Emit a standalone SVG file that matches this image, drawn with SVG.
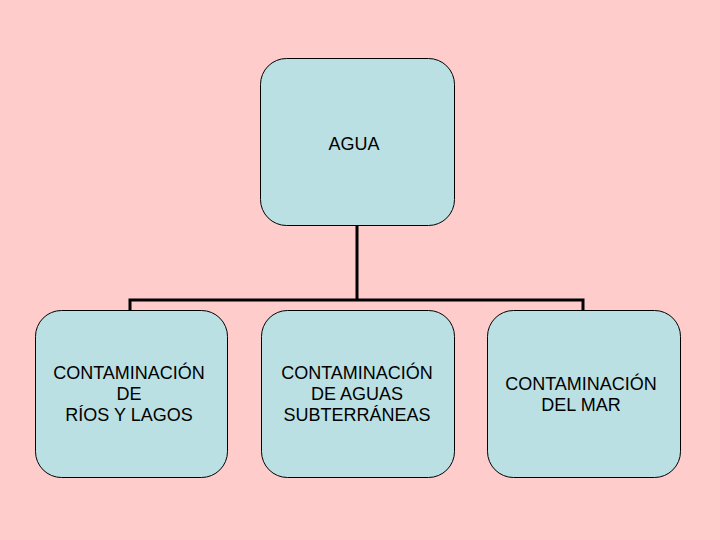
<svg xmlns="http://www.w3.org/2000/svg" width="720" height="540" viewBox="0 0 720 540">
<style>
.box{fill:#BBE0E3;stroke:#000;stroke-width:1}
.t{font-family:"Liberation Sans",Arial,sans-serif;font-size:18px;fill:#000;text-anchor:middle}
.c{fill:none;stroke:#000;stroke-width:3}
</style>
<rect width="720" height="540" fill="#FFCCCC"/>
<g id="connectors">
<path class="c" d="M357 225V300M130 310V300H583V310"/>
</g>
<g id="agua">
<rect class="box" x="260.5" y="58.5" width="194" height="167" rx="26"/>
<text class="t" x="354" y="150">AGUA</text>
</g>
<g id="rios">
<rect class="box" x="35.5" y="310.5" width="192" height="167" rx="26"/>
<text class="t" x="129" y="379">CONTAMINACIÓN</text>
<text class="t" x="129" y="400">DE</text>
<text class="t" x="129" y="421">RÍOS Y LAGOS</text>
</g>
<g id="subterraneas">
<rect class="box" x="261.5" y="310.5" width="193" height="167" rx="26"/>
<text class="t" x="357" y="379">CONTAMINACIÓN</text>
<text class="t" x="357" y="400">DE AGUAS</text>
<text class="t" x="357" y="421">SUBTERRÁNEAS</text>
</g>
<g id="mar">
<rect class="box" x="487.5" y="310.5" width="193" height="167" rx="26"/>
<text class="t" x="581" y="390">CONTAMINACIÓN</text>
<text class="t" x="581" y="411">DEL MAR</text>
</g>
</svg>
